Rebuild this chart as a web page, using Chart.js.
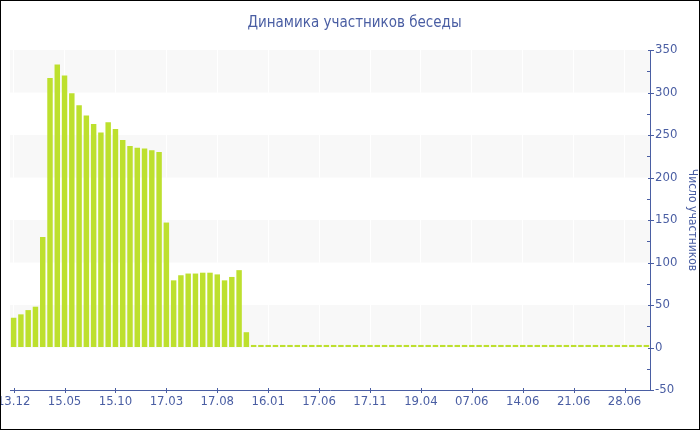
<!DOCTYPE html>
<html><head><meta charset="utf-8">
<script src="https://cdn.jsdelivr.net/npm/chart.js@4"></script>
<style>
html,body{margin:0;padding:0;background:#fff;}
#wrap{width:700px;height:430px;border:1px solid #000;box-sizing:border-box;}
canvas{display:block;}
</style></head>
<body><div id="wrap"><canvas id="c" width="698" height="428"></canvas></div>
<script>
const title = 'Динамика участников беседы';
const yTitle = 'Число участников';
const tickLabels = ['13.12','15.05','15.10','17.03','17.08','16.01','17.06','17.11','19.04','07.06','14.06','21.06','28.06'];
const members = [35,39,44,48,130,317,333,320,299,285,273,263,253,265,257,244,237,235,234,232,230,147,
  79,85,87,87,88,88,86,79,83,91,18,
  3,3,3,3,3,3,3,3,3,3,3,3,3,3,3,3,3,3,3,3,3,3,3,3,3,3,3,3,3,3,3,3,3,3,3,3,3,3,3,3,3,3,3,3,3,3,3,3,3,3,3,3,3,3,3];
const labelStep = 7;
const yMin = -50, yMax = 350;

const BLUE = '#4a5ea3';
const FONT = "'DejaVu Sans Condensed','DejaVu Sans',sans-serif";
const BAR = '#bde02e';
const BAND = '#f8f8f8';

const decor = {
  id: 'decor',
  beforeDraw(chart) {
    const {ctx, chartArea: a, scales: {y}} = chart;
    ctx.save();
    ctx.fillStyle = BAND;
    for (let v = 0; v < yMax; v += 100) {
      const t = y.getPixelForValue(v + 50), b = y.getPixelForValue(v);
      ctx.fillRect(a.left, t, a.right - a.left, b - t);
    }
    ctx.restore();
  },
  afterDraw(chart) {
    const {ctx, chartArea: a, scales: {x, y}} = chart;
    ctx.save();
    ctx.strokeStyle = BLUE;
    ctx.lineWidth = 1;
    ctx.beginPath();
    for (let i = 0; i < members.length; i += labelStep) {
      const px = Math.round(x.getPixelForValue(i)) + 0.5;
      ctx.moveTo(px, a.bottom - 2); ctx.lineTo(px, a.bottom + 3);
    }
    for (let v = yMin; v <= yMax; v += 25) {
      const py = Math.round(y.getPixelForValue(v)) + 0.5;
      if (v % 50 === 0) { ctx.moveTo(a.right - 2, py); ctx.lineTo(a.right + 4, py); }
      else { ctx.moveTo(a.right - 3, py); ctx.lineTo(a.right, py); }
    }
    ctx.stroke();
    ctx.restore();
  }
};

new Chart(document.getElementById('c'), {
  type: 'bar',
  data: {
    labels: members.map((_, i) => i),
    datasets: [{
      data: members,
      backgroundColor: BAR,
      borderWidth: 0,
      categoryPercentage: 1,
      barPercentage: 0.75
    }]
  },
  plugins: [decor],
  options: {
    responsive: false,
    animation: false,
    layout: {padding: {left: 9, top: 0, right: 0, bottom: 0}},
    plugins: {
      legend: {display: false},
      tooltip: {enabled: false},
      title: {
        display: true, text: title, color: BLUE,
        font: {family: FONT, size: 15, weight: 'normal', lineHeight: 1.2},
        padding: {top: 13, bottom: 18}
      }
    },
    scales: {
      x: {
        offset: true,
        grid: {
          drawTicks: false,
          color: ctx => (ctx.index % labelStep === 0 ? 'rgba(255,255,255,0.9)' : 'rgba(0,0,0,0)'),
          offset: false
        },
        border: {display: true, color: BLUE, width: 1},
        ticks: {
          autoSkip: false, maxRotation: 0, padding: 4, color: BLUE,
          font: {family: FONT, size: 13},
          callback: (v, i) => (i % labelStep === 0 ? tickLabels[i / labelStep] : '')
        },
        afterFit: s => { s.height = 39; s.paddingLeft = 0; s.paddingRight = 0; }
      },
      y: {
        position: 'right',
        min: yMin, max: yMax,
        grid: {drawOnChartArea: false, drawTicks: false},
        border: {display: true, color: BLUE, width: 1},
        ticks: {
          stepSize: 25, autoSkip: false, padding: 5, color: BLUE,
          font: {family: FONT, size: 13},
          callback: v => (v % 50 === 0 ? String(v) : '')
        },
        title: {
          display: true, text: yTitle, color: BLUE,
          font: {family: FONT, size: 12}, padding: {top: 0, bottom: 1}
        },
        afterFit: s => { s.width = 49; s.paddingTop = 0; s.paddingBottom = 0; }
      }
    }
  }
});
</script></body></html>
